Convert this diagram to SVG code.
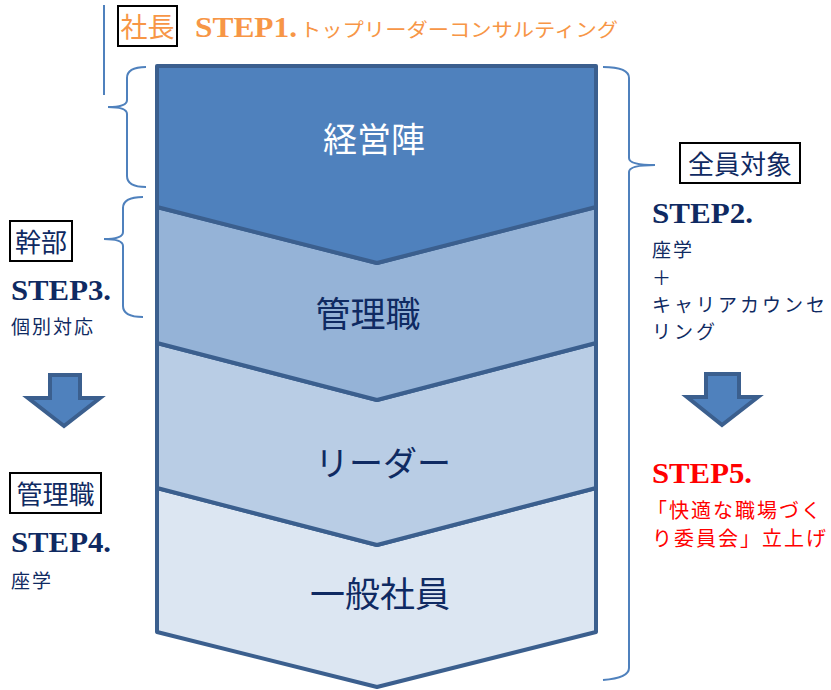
<svg xmlns="http://www.w3.org/2000/svg" width="831" height="690" viewBox="0 0 831 690">
<style>
.stage{stroke:#3B5F8E;stroke-width:4;stroke-linejoin:round}
.brace{fill:none;stroke:#4F81BD;stroke-width:2}
.jp{font-family:"Noto Sans CJK JP","Noto Sans CJK SC",sans-serif}
.step{font-family:"Liberation Serif",serif;font-weight:bold;font-size:29px}
.small{font-size:19px}
.navy{fill:#0F2A62}
.box{fill:#fff;stroke:#000;stroke-width:2}
.arrow{fill:#4F81BD;stroke:#3B5F8E;stroke-width:4;stroke-linejoin:miter}
</style>
<rect width="831" height="690" fill="#fff"/>
<g id="stage4">
<path class="stage" d="M157,488 L377,545 L596,488 L596,632 L377,687 L157,632 Z" fill="#DCE6F2"/>
<text class="jp navy" x="380" y="607" font-size="35" text-anchor="middle">一般社員</text>
</g>
<g id="stage3">
<path class="stage" d="M157,343 L377,400 L596,343 L596,488 L377,545 L157,488 Z" fill="#B9CDE5"/>
<text class="jp navy" x="383" y="476" font-size="34" text-anchor="middle">リーダー</text>
</g>
<g id="stage2">
<path class="stage" d="M157,207 L377,263 L596,207 L596,343 L377,400 L157,343 Z" fill="#95B3D7"/>
<text class="jp navy" x="368" y="327" font-size="35" text-anchor="middle">管理職</text>
</g>
<g id="stage1">
<path class="stage" d="M157,66 L596,66 L596,207 L377,263 L157,207 Z" fill="#4F81BD"/>
<text class="jp" x="374" y="152" font-size="34" fill="#fff" text-anchor="middle">経営陣</text>
</g>
<g id="connectors">
<line x1="104" y1="5" x2="104" y2="95" stroke="#4F81BD" stroke-width="2"/>
<path class="brace" d="M146,67 Q127,67 127,78 L127,100 Q127,107 108,107 Q127,107 127,114 L127,176 Q127,187 146,187"/>
<path class="brace" d="M143,197 Q123,197 123,208 L123,232 Q123,239 104,239 Q123,239 123,246 L123,306 Q123,317 143,317"/>
<path class="brace" d="M603,67 Q629,67 629,78 L629,158 Q629,165 655,165 Q629,165 629,172 L629,668 Q629,678 603,680"/>
<path class="arrow" d="M50,375 L80,375 L80,398 L100,398 L64,426 L28,398 L50,398 Z"/>
<path class="arrow" d="M706,374 L739,374 L739,397 L758,397 L722,425 L687,397 L706,397 Z"/>
</g>
<g id="ceo">
<rect class="box" x="118" y="6" width="59" height="40"/>
<text class="jp" x="147.5" y="37" font-size="27" fill="#F79646" text-anchor="middle">社長</text>
<text class="step" x="195" y="37" fill="#F79646" textLength="102" lengthAdjust="spacingAndGlyphs">STEP1.</text>
<text class="jp" x="300" y="37" font-size="19" fill="#F79646" textLength="318" lengthAdjust="spacingAndGlyphs">トップリーダーコンサルティング</text>
</g>
<g id="all">
<rect class="box" x="680" y="143" width="120" height="40"/>
<text class="jp navy" x="740" y="174" font-size="26" text-anchor="middle">全員対象</text>
<text class="step navy" x="652" y="223" textLength="101" lengthAdjust="spacingAndGlyphs">STEP2.</text>
<text class="jp navy small" x="652" y="257" letter-spacing="2">座学</text>
<text class="jp navy small" x="652" y="285">＋</text>
<text class="jp navy small" x="652" y="312" letter-spacing="3">キャリアカウンセ</text>
<text class="jp navy small" x="652" y="339" letter-spacing="3">リング</text>
</g>
<g id="exec">
<rect class="box" x="10" y="221" width="62" height="40"/>
<text class="jp navy" x="41" y="252" font-size="26" text-anchor="middle">幹部</text>
<text class="step navy" x="11" y="300" textLength="100" lengthAdjust="spacingAndGlyphs">STEP3.</text>
<text class="jp navy small" x="11" y="334" letter-spacing="2">個別対応</text>
</g>
<g id="manager">
<rect class="box" x="10" y="473" width="91" height="40"/>
<text class="jp navy" x="55.5" y="504" font-size="26" text-anchor="middle">管理職</text>
<text class="step navy" x="11" y="552" textLength="100" lengthAdjust="spacingAndGlyphs">STEP4.</text>
<text class="jp navy small" x="11" y="588" letter-spacing="2">座学</text>
</g>
<g id="step5">
<text class="step" x="652" y="483" fill="#FF0000" textLength="100" lengthAdjust="spacingAndGlyphs">STEP5.</text>
<text class="jp" x="647" y="518" font-size="20" fill="#FF0000" letter-spacing="2">「快適な職場づく</text>
<text class="jp" x="652" y="546" font-size="20" fill="#FF0000" letter-spacing="2">り委員会」立上げ</text>
</g>
</svg>
